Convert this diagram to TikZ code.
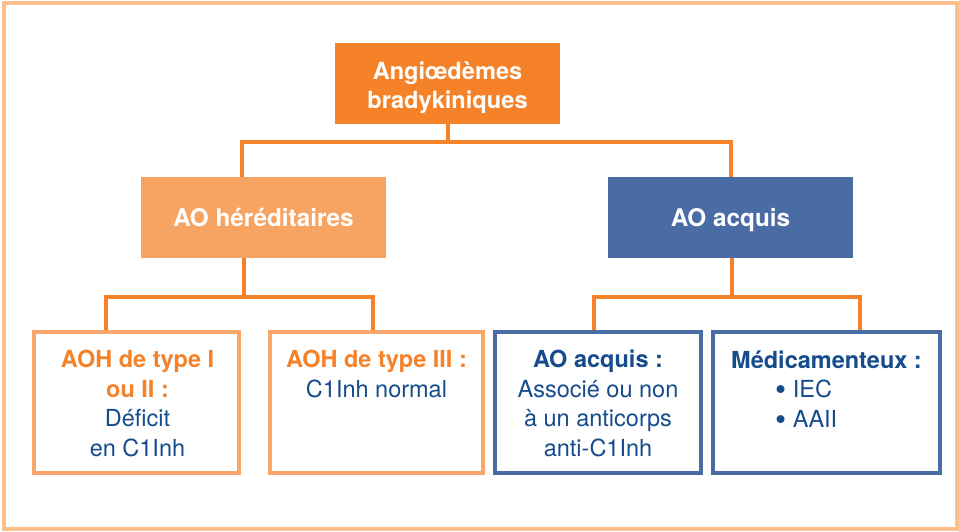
\documentclass[tikz,border=0pt]{standalone}
\usepackage{fontspec}
\usepackage{graphicx}
\setmainfont{TeX Gyre Heros}
\definecolor{orMain}{HTML}{F58229}
\definecolor{orLight}{HTML}{F7A462}
\definecolor{orBorder}{HTML}{F9A66A}
\definecolor{frameC}{HTML}{FDBF8C}
\definecolor{blFill}{HTML}{4A6CA5}
\definecolor{blText}{HTML}{174C8C}
\newcommand{\bigbul}{\raisebox{-3pt}{\scalebox{1.35}{•}}}
\tikzset{
  conn/.style={draw=orMain, line width=4pt},
  fillbox/.style={rectangle, inner sep=0pt, minimum height=81pt, minimum width=245pt},
  orbox/.style={rectangle, draw=orBorder, line width=4pt, fill=white, inner sep=0pt, minimum height=141pt},
  blbox/.style={rectangle, draw=blFill, line width=4pt, fill=white, inner sep=0pt, minimum height=141pt},
  txt/.style={font=\fontsize{23.5}{29.4}\selectfont, align=center, anchor=base, inner sep=0pt},
  wtxt/.style={text=white, align=center, anchor=base, inner sep=0pt},
}
\begin{document}
\begin{tikzpicture}[x=1pt,y=-1pt]
\useasboundingbox (0,0) rectangle (959,531);
\draw[frameC, line width=4pt] (4,2.5) rectangle (957,529);

% boxes
\node[fillbox, fill=orMain, minimum width=225pt] (top) at (447.5,83.5) {};
\node[fillbox, fill=orLight] (her) at (263.5,217.5) {};
\node[fillbox, fill=blFill] (acq) at (730.5,217.5) {};
\node[orbox, minimum width=205pt] (b1) at (136.5,402.5) {};
\node[orbox, minimum width=213pt] (b2) at (376.5,402.5) {};
\node[blbox, minimum width=206pt] (b3) at (598,402.5) {};
\node[blbox, minimum width=227pt] (b4) at (826.5,402.5) {};

% connectors
\coordinate (jT) at (447.5,142);
\coordinate (jL) at (242,142);
\coordinate (jR) at (731,142);
\draw[conn] (top.south) -- (jT);
\draw[conn] (her.north -| jL) -- (jL) -- (jR) -- (acq.north -| jR);

\coordinate (kh) at (244,297);
\coordinate (k1) at (106,297);
\coordinate (k2) at (373,297);
\draw[conn] (her.south -| kh) -- (kh);
\draw[conn] (b1.north -| k1) -- (k1) -- (k2) -- (b2.north -| k2);

\coordinate (ma) at (732,297);
\coordinate (m1) at (594,297);
\coordinate (m2) at (860,297);
\draw[conn] (acq.south -| ma) -- (ma);
\draw[conn] (b3.north -| m1) -- (m1) -- (m2) -- (b4.north -| m2);

% texts (base anchor = baseline of the last line)
\node[wtxt, font=\fontsize{23.6}{29}\selectfont\bfseries] (ttop) at (447.5,108) {Angiœdèmes\\bradykiniques};
\node[wtxt, font=\fontsize{24.3}{29}\selectfont\bfseries] (ther) at (263.5,226) {AO héréditaires};
\node[wtxt, font=\fontsize{24.3}{29}\selectfont\bfseries] (tacq) at (730.5,226) {AO acquis};

\node[txt, text=blText] (t1) at (137.5,456) {\textcolor{orMain}{\bfseries AOH de type I}\\\textcolor{orMain}{\bfseries ou II :}\\Déficit\\en C1Inh};
\node[txt, text=blText] (t2) at (376.5,397) {\textcolor{orMain}{\bfseries AOH de type III :}\\C1Inh normal};
\node[txt, text=blText] (t3) at (598,456) {{\bfseries AO acquis :}\\Associé ou non\\à un anticorps\\anti-C1Inh};
\node[txt, text=blText] (t4) at (826.5,368) {\bfseries Médicamenteux :};
\node[txt, text=blText, anchor=base west] (t5) at (775,397) {\bigbul\ IEC};
\node[txt, text=blText, anchor=base west] (t6) at (775,427) {\bigbul\ AAII};
\end{tikzpicture}
\end{document}
